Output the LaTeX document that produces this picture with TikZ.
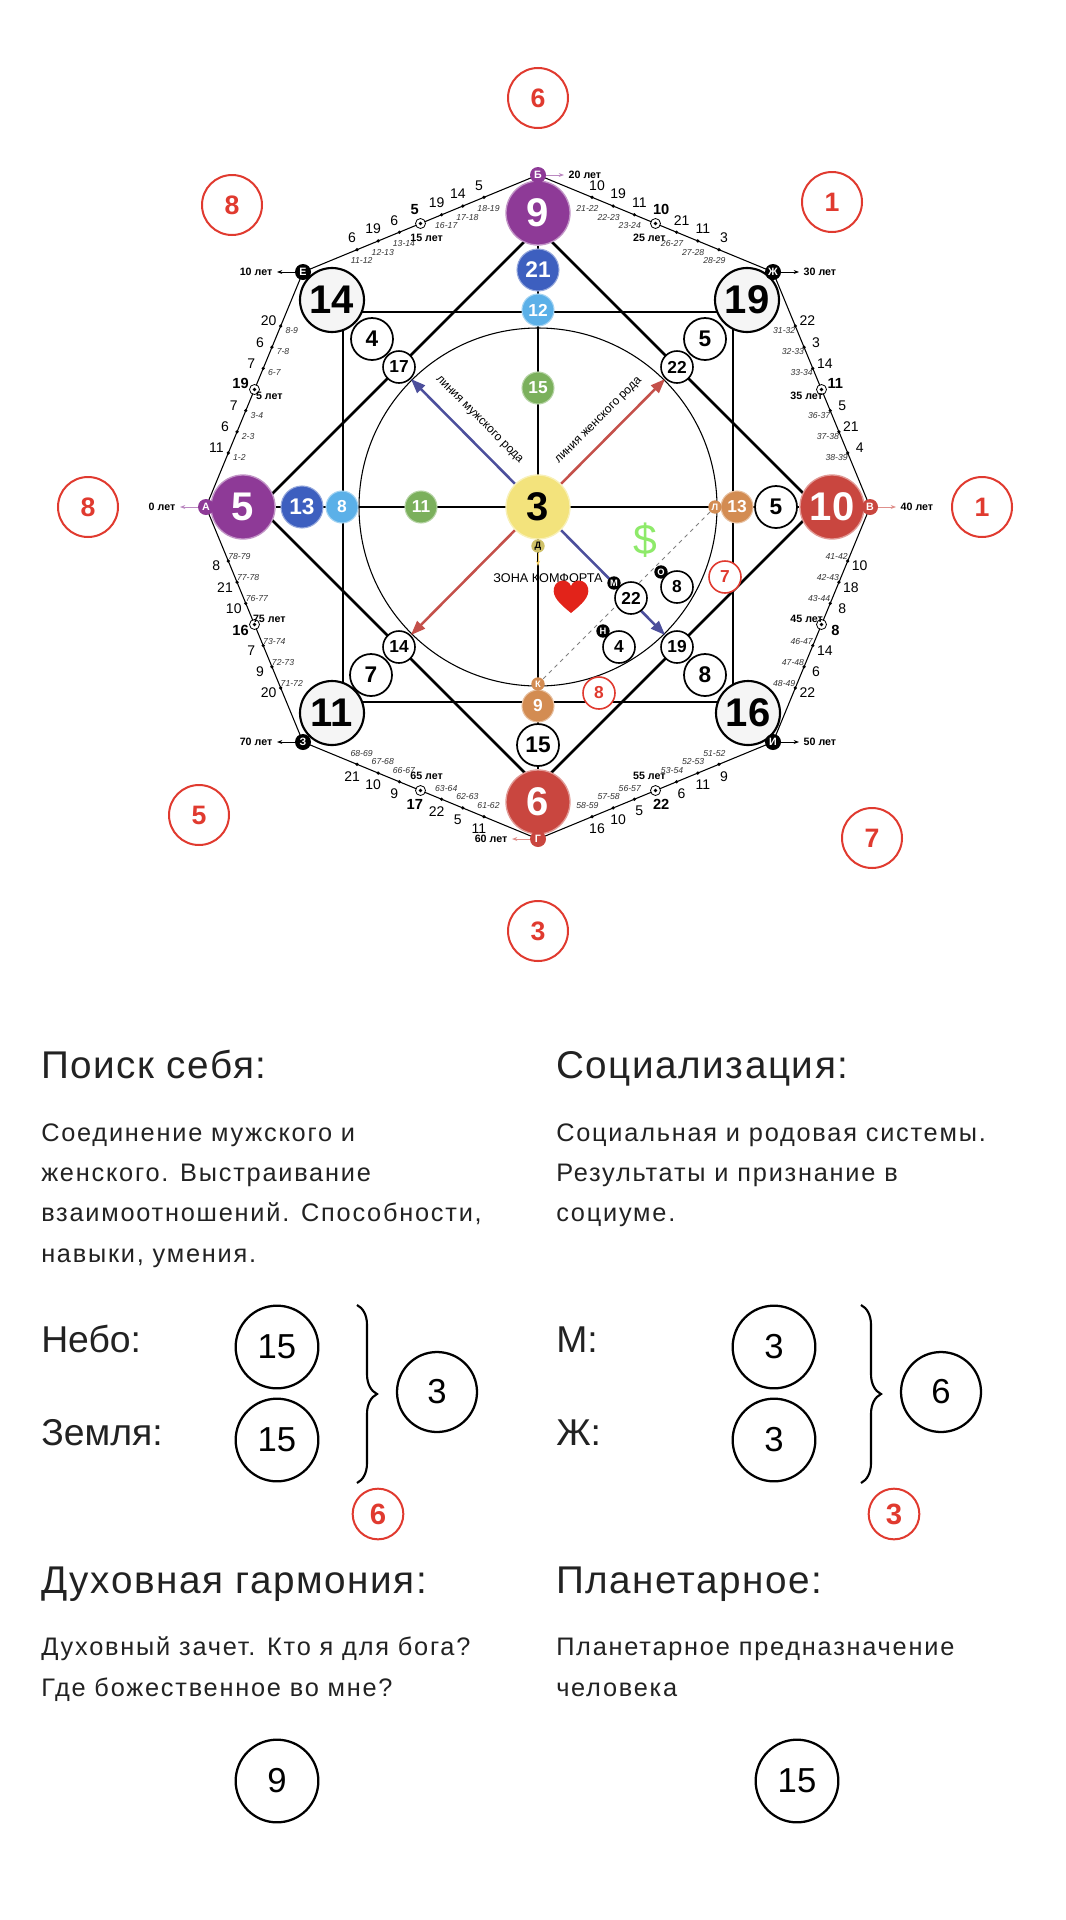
\documentclass[tikz,border=0pt]{standalone}
\usepackage{fontspec}
\setmainfont{Liberation Sans}
\newfontfamily\bodyfont[LetterSpace=7]{Liberation Sans}
\newfontfamily\headfont[LetterSpace=4]{Liberation Sans}
\usetikzlibrary{calc,arrows.meta,backgrounds,decorations.pathreplacing}
\definecolor{cpurple}{HTML}{8E3A97}
\definecolor{cblue}{HTML}{3D5FBF}
\definecolor{clblue}{HTML}{5BB0E8}
\definecolor{cgreen}{HTML}{7BB05C}
\definecolor{cyellow}{HTML}{F3E37C}
\definecolor{cred}{HTML}{C9463F}
\definecolor{corange}{HTML}{D38C52}
\definecolor{rmark}{HTML}{E03A2F}
\definecolor{arrblue}{HTML}{4C4F9C}
\definecolor{arrred}{HTML}{C4504A}
\definecolor{txt}{HTML}{222222}
\definecolor{dgreen}{HTML}{8EEA6A}
\definecolor{heart}{HTML}{E2231A}
\begin{document}
\begin{tikzpicture}[x=0.75pt,y=-0.75pt,
  bigc/.style={circle,inner sep=0,minimum size=48pt,line width=1.6pt,draw=black,fill=gray!8,font=\fontsize{30}{30}\selectfont\bfseries},
  colbig/.style={circle,inner sep=0,minimum size=48pt,line width=1pt,draw=#1!55!white,fill=#1,text=white,font=\fontsize{30}{30}\selectfont\bfseries},
  midc/.style={circle,inner sep=0,minimum size=31.5pt,line width=1.3pt,draw=black,fill=white,font=\fontsize{17}{17}\selectfont\bfseries},
  colmid/.style={circle,inner sep=0,minimum size=31.5pt,line width=0.8pt,draw=#1!55!white,fill=#1,text=white,font=\fontsize{17}{17}\selectfont\bfseries},
  smc/.style={circle,inner sep=0,minimum size=24pt,line width=1.2pt,draw=black,fill=white,font=\fontsize{13}{13}\selectfont\bfseries},
  colsm/.style={circle,inner sep=0,minimum size=24pt,line width=0.8pt,draw=#1!55!white,fill=#1,text=white,font=\fontsize{13}{13}\selectfont\bfseries},
  redsm/.style={circle,inner sep=0,minimum size=24pt,line width=1.2pt,draw=rmark,fill=white,text=rmark,font=\fontsize{13}{13}\selectfont\bfseries},
  redc/.style={circle,inner sep=0,minimum size=45pt,line width=1.5pt,draw=rmark,text=rmark,font=\fontsize{20}{20}\selectfont\bfseries},
  letc/.style={circle,inner sep=0,minimum size=12pt,fill=#1,text=white,font=\fontsize{8}{8}\selectfont\bfseries},
  tinyl/.style={circle,inner sep=0,minimum size=10pt,fill=#1,text=white,font=\fontsize{7}{7}\selectfont\bfseries},
  agel/.style={font=\fontsize{8}{8}\selectfont\bfseries},
  numl/.style={font=\fontsize{10.5}{10.5}\selectfont,inner sep=0},
  numbl/.style={font=\fontsize{11}{11}\selectfont\bfseries,inner sep=0},
  rngl/.style={font=\fontsize{6.5}{6.5}\selectfont\itshape,inner sep=0,text=black!80},
  thickl/.style={line width=1.9pt},
  thinl/.style={line width=0.8pt},
  marr/.style={line width=1.9pt,-{Triangle[length=11pt,width=8pt]}},
  head/.style={anchor=base west,text=txt,font=\headfont\fontsize{29}{29}\selectfont,inner sep=0},
  body/.style={anchor=base west,text=txt,font=\bodyfont\fontsize{19}{19}\selectfont,inner sep=0},
  lab/.style={anchor=base west,text=txt,font=\fontsize{28}{28}\selectfont,inner sep=0},
  bc/.style={circle,draw=black,line width=1.7pt,inner sep=0,minimum size=62pt,font=\fontsize{26}{26}\selectfont},
  bred/.style={circle,draw=rmark,line width=1.5pt,inner sep=0,minimum size=38pt,text=rmark,font=\fontsize{22}{22}\selectfont\bfseries}
]
\useasboundingbox (0,0) rectangle (1066,1920);

\coordinate (C) at (538,507);
% octagon vertices
\coordinate (vA) at (206,507);
\coordinate (vE) at (303,272);
\coordinate (vB) at (538,175);
\coordinate (vZh) at (773,272);
\coordinate (vV) at (870,507);
\coordinate (vI) at (773,742);
\coordinate (vG) at (538,839);
\coordinate (vZ) at (303,742);
% square and diamond
\coordinate (s1) at (343,312); \coordinate (s2) at (733,312);
\coordinate (s3) at (733,702); \coordinate (s4) at (343,702);
\coordinate (d1) at (538,228); \coordinate (d2) at (817,507);
\coordinate (d3) at (538,786); \coordinate (d4) at (259,507);

% main circles
\node[colbig=cpurple] (n9) at (538,213) {9};
\node[colbig=cpurple] (n5) at (243,507) {5};
\node[colbig=cred] (n10) at (832,507) {10};
\node[colbig=cred] (n6) at (538,802) {6};
\node[colbig=cyellow,text=black] (n3) at (538,507) {3};
\node[bigc] (n14) at (332,300) {14};
\node[bigc] (n19) at (747,300) {19};
\node[bigc] (n11) at (332,713) {11};
\node[bigc] (n16) at (748,713) {16};
% diagonals
\node[midc] (m4) at (372,339) {4};
\node[smc] (s17) at (399,367) {17};
\node[midc] (m5) at (705,339) {5};
\node[smc] (s22) at (677,367) {22};
\node[midc] (m7) at (371,675) {7};
\node[smc] (s14) at (399,647) {14};
\node[midc] (m8) at (705,675) {8};
\node[smc] (s19) at (677,647) {19};
% axes
\node[colmid=cblue] (a21) at (538,270) {21};
\node[colsm=clblue] (a12) at (538,310) {12};
\node[colsm=cgreen] (a15) at (538,388) {15};
\node[colmid=cblue] (a13) at (302,507) {13};
\node[colsm=clblue] (a8) at (342,507) {8};
\node[colsm=cgreen] (a11) at (421,507) {11};
\node[midc] (a5) at (776,507) {5};
\node[colsm=corange] (a13o) at (737,507) {13};
\node[tinyl=corange] (lL) at (715,507) {Л};
\node[midc] (a15b) at (538,745) {15};
\node[colsm=corange] (a9o) at (538,706) {9};
\node[tinyl=corange] (lK) at (538,684) {К};
% inner zone
\node[tinyl=cyellow!85!black,text=black] (lD) at (538,546) {Д};
\coordinate (dArr) at (538,566);
\node[font=\fontsize{9.5}{9.5}\selectfont,inner sep=0] (zona) at (548,578) {ЗОНА КОМФОРТА};
\node[text=dgreen,font=\fontsize{32}{32}\selectfont,inner sep=0] (dollar) at (645,540) {\$};
\node[smc] (i22) at (631,598) {22};
\node[tinyl=black] (lM) at (614,583) {М};
\node[smc] (i8) at (677,587) {8};
\node[tinyl=black] (lO) at (661,572) {О};
\node[smc] (i4) at (619,647) {4};
\node[tinyl=black] (lN) at (603,631) {Н};
\node[redsm] (r7) at (725,577) {7};
\node[redsm] (r8) at (599,693) {8};
\fill[heart] (571,613) .. controls (560,604) and (552,597) .. (554,588) .. controls (556,579) and (568,578) .. (571,586) .. controls (574,578) and (586,579) .. (588,588) .. controls (590,597) and (582,604) .. (571,613) -- cycle;

% arrow labels
\node[rotate=-45,font=\fontsize{9}{9}\selectfont,inner sep=0] (lmale) at (479,420) {линия мужского рода};
\node[rotate=45,font=\fontsize{9}{9}\selectfont,inner sep=0] (lfem) at (599,421) {линия женского рода};

% vertex letters
\node[letc=cpurple] (LA) at (vA) {А};
\node[letc=black] (LE) at (vE) {Е};
\node[letc=cpurple] (LB) at (vB) {Б};
\node[letc=black] (LZh) at (vZh) {Ж};
\node[letc=cred] (LV) at (vV) {В};
\node[letc=black] (LI) at (vI) {И};
\node[letc=cred] (LG) at (vG) {Г};
\node[letc=black] (LZ) at (vZ) {З};
\node[agel,anchor=east] (tA) at (180,507) {0 лет};
\node[agel,anchor=east] (tE) at (277,272) {10 лет};
\node[agel,anchor=west] (tB) at (564,175) {20 лет};
\node[agel,anchor=west] (tZh) at (799,272) {30 лет};
\node[agel,anchor=west] (tV) at (896,507) {40 лет};
\node[agel,anchor=west] (tI) at (799,742) {50 лет};
\node[agel,anchor=east] (tG) at (512,839) {60 лет};
\node[agel,anchor=east] (tZ) at (277,742) {70 лет};
\foreach \l/\t/\c in {LA/tA/cpurple!60,LE/tE/black,LB/tB/cpurple!60,LZh/tZh/black,LV/tV/cred!60,LI/tI/black,LG/tG/cred!60,LZ/tZ/black}
  \draw[\c,line width=0.7pt,-{Stealth[length=4pt]}] (\l) -- (\t);

% edge ticks
\foreach \i/\a/\b/\nums in {0/vA/vE/{11,6,7,19,7,6,20},1/vE/vB/{6,19,6,5,19,14,5},2/vB/vZh/{10,19,11,10,21,11,3},3/vZh/vV/{22,3,14,11,5,21,4},4/vV/vI/{10,18,8,8,14,6,22},5/vI/vG/{9,11,6,22,5,10,16},6/vG/vZ/{11,5,22,17,9,10,21},7/vZ/vA/{20,9,7,16,10,21,8}}{
  \pgfmathsetmacro\ph{157.5-45*\i}
  \foreach \n [count=\k] in \nums {
    \pgfmathsetmacro\t{0.5+(\k-4)*0.09}
    \coordinate (t\i-\k) at ($(\a)!\t!(\b)$);
    \ifnum\k=4
      \draw[fill=white,line width=0.6pt] (t\i-\k) circle (5);
      \fill (t\i-\k) circle (1.8);
      \pgfmathtruncatemacro\yr{10*\i+5}
      \node[numbl] (nb\i-\k) at ($(t\i-\k)+({15*cos(\ph)},{-15*sin(\ph)})$) {\n};
      \node[agel,inner sep=0] (ab\i-\k) at ($(t\i-\k)+({-16*cos(\ph)},{16*sin(\ph)})$) {\yr\ лет};
    \else
      \fill (t\i-\k) circle (1.8);
      \pgfmathtruncatemacro\ya{10*\i+\k+(\k>4)}
      \pgfmathtruncatemacro\yb{\ya+1}
      \node[numl] (nn\i-\k) at ($(t\i-\k)+({13*cos(\ph)},{-13*sin(\ph)})$) {\n};
      \node[rngl] (ar\i-\k) at ($(t\i-\k)+({-12*cos(\ph)},{12*sin(\ph)})$) {\ya-\yb};
    \fi
  }
}

% red markers
\node[redc] (R6) at (538,98) {6};
\node[redc] (R1a) at (832,202) {1};
\node[redc] (R1b) at (982,507) {1};
\node[redc] (R7) at (872,838) {7};
\node[redc] (R3) at (538,931) {3};
\node[redc] (R5) at (199,815) {5};
\node[redc] (R8a) at (88,507) {8};
\node[redc] (R8b) at (232,205) {8};

\begin{scope}[on background layer]
  \draw[line width=0.8pt] (vA) -- (vE) -- (vB) -- (vZh) -- (vV) -- (vI) -- (vG) -- (vZ) -- cycle;
  \draw[thinl] (C) circle (179);
  \draw[thickl] (s1) -- (s2) -- (s3) -- (s4) -- cycle;
  \draw[thickl] (d1) -- (d2) -- (d3) -- (d4) -- cycle;
  \draw[thinl] (n5) -- (n10);
  \draw[thinl] (n9) -- (n6);
  \draw[gray,dashed,line width=0.6pt] (lL) -- (lK);
  \draw[marr,arrblue] (n3) -- (s17);
  \draw[marr,arrred] (n3) -- (s22);
  \draw[marr,arrred] (n3) -- (s14);
  \draw[marr,arrblue] (n3) -- (s19);
  \draw[cyellow!80!orange,line width=0.7pt,-{Stealth[length=4pt]}] (lD) -- (dArr);
\end{scope}

% ===== text section =====
\node[head] (h1) at (41,1078) {Поиск себя:};
\node[body] (b11) at (41,1141) {Соединение мужского и};
\node[body] (b12) at (41,1181) {женского. Выстраивание};
\node[body] (b13) at (41,1221) {взаимоотношений. Способности,};
\node[body] (b14) at (41,1262) {навыки, умения.};
\node[lab] (lNebo) at (41,1352) {Небо:};
\node[lab] (lZem) at (41,1445) {Земля:};
\node[bc] (c15a) at (277,1347) {15};
\node[bc] (c15b) at (277,1440) {15};
\coordinate (br1t) at (357,1305); \coordinate (br1b) at (357,1483);
\draw[decorate,decoration={brace,amplitude=15pt},line width=1.6pt] (br1t) -- (br1b);
\node[bc,minimum size=60pt] (c3) at (437,1392) {3};
\node[bred] (rr6) at (378,1514) {6};

\node[head] (h2) at (556,1078) {Социализация:};
\node[body] (b21) at (556,1141) {Социальная и родовая системы.};
\node[body] (b22) at (556,1181) {Результаты и признание в};
\node[body] (b23) at (556,1221) {социуме.};
\node[lab] (lM2) at (556,1352) {М:};
\node[lab] (lZh2) at (556,1445) {Ж:};
\node[bc] (c3a) at (774,1347) {3};
\node[bc] (c3b) at (774,1440) {3};
\coordinate (br2t) at (861,1305); \coordinate (br2b) at (861,1483);
\draw[decorate,decoration={brace,amplitude=15pt},line width=1.6pt] (br2t) -- (br2b);
\node[bc,minimum size=60pt] (c6) at (941,1392) {6};
\node[bred] (rr3) at (894,1514) {3};

\node[head] (h3) at (41,1593) {Духовная гармония:};
\node[body] (b31) at (41,1655) {Духовный зачет. Кто я для бога?};
\node[body] (b32) at (41,1696) {Где божественное во мне?};
\node[bc] (c9) at (277,1781) {9};
\node[head] (h4) at (556,1593) {Планетарное:};
\node[body] (b41) at (556,1655) {Планетарное предназначение};
\node[body] (b42) at (556,1696) {человека};
\node[bc] (c15c) at (797,1781) {15};
\end{tikzpicture}
\end{document}
